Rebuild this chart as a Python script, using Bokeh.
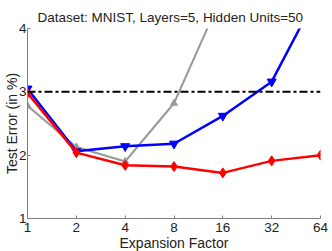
from bokeh.plotting import figure
from bokeh.models import FixedTicker, NumeralTickFormatter, Span, Range1d
from bokeh.embed import file_html
from bokeh.resources import INLINE

expansion = [1, 2, 4, 8, 16, 32, 64]
red_vals = [2.98, 2.04, 1.84, 1.82, 1.72, 1.91, 2.00]
blue_vals = [3.05, 2.06, 2.14, 2.18, 2.62, 3.16, 4.63]
gray_x = [1, 2, 4, 8, 16]
gray_vals = [2.78, 2.13, 1.90, 2.82, 4.55]
baseline = 3.0
x_ticks = [1, 2, 4, 8, 16, 32, 64]
y_ticks = [1, 2, 3, 4]

FONT = "Liberation Sans"

p = figure(frame_width=293, frame_height=190, x_axis_type="log",
           x_range=Range1d(1, 64), y_range=Range1d(1, 4),
           output_backend="svg", toolbar_location=None,
           title="Dataset: MNIST,  Layers=5,  Hidden Units=50",
           min_border_left=0, min_border_right=8, min_border_top=28, min_border_bottom=31)

p.title.align = "center"
p.title.text_font = FONT
p.title.text_font_size = "13.5px"
p.title.text_font_style = "normal"
p.title.text_color = "#222222"
p.title.offset = 8
p.title.standoff = 8

p.xgrid.visible = False
p.ygrid.visible = False
p.outline_line_color = None

p.xaxis.ticker = FixedTicker(ticks=x_ticks)
p.yaxis.ticker = FixedTicker(ticks=y_ticks)
p.xaxis.formatter = NumeralTickFormatter(format="0")
p.yaxis.formatter = NumeralTickFormatter(format="0")
p.xaxis.axis_label = "Expansion Factor"
p.yaxis.axis_label = "Test Error (in %)"
for ax in (p.xaxis, p.yaxis):
    ax.axis_line_color = "#808080"
    ax.major_tick_line_color = "#808080"
    ax.major_tick_in = 3
    ax.major_tick_out = 0
    ax.minor_tick_line_color = None
    ax.major_label_text_font = FONT
    ax.major_label_text_font_size = "13.5px"
    ax.major_label_text_color = "#222222"
    ax.axis_label_text_font = FONT
    ax.axis_label_text_font_size = "14px"
    ax.axis_label_text_font_style = "normal"
    ax.axis_label_text_color = "#222222"
p.xaxis.axis_label_standoff = 0
p.xaxis.major_label_standoff = 4
p.yaxis.axis_label_standoff = -4
p.yaxis.major_label_standoff = 1

p.add_layout(Span(location=baseline, dimension="width", line_color="black",
                  line_width=2, line_dash="8 3 3 3"))

p.line(gray_x, gray_vals, line_color="#999999", line_width=2)
p.scatter(gray_x, gray_vals, marker="triangle", size=7, fill_color="#999999", line_color="#999999")

p.line(expansion, blue_vals, line_color="#0000FF", line_width=2.5)
p.scatter(expansion, blue_vals, marker="inverted_triangle", size=9, fill_color="#0000FF", line_color="#0000FF")

p.line(expansion, red_vals, line_color="#FF0000", line_width=2.5)
p.scatter(expansion, red_vals, marker="diamond", size=10, fill_color="#FF0000", line_color="#FF0000")

open("out.html", "w").write(file_html(p, INLINE))
